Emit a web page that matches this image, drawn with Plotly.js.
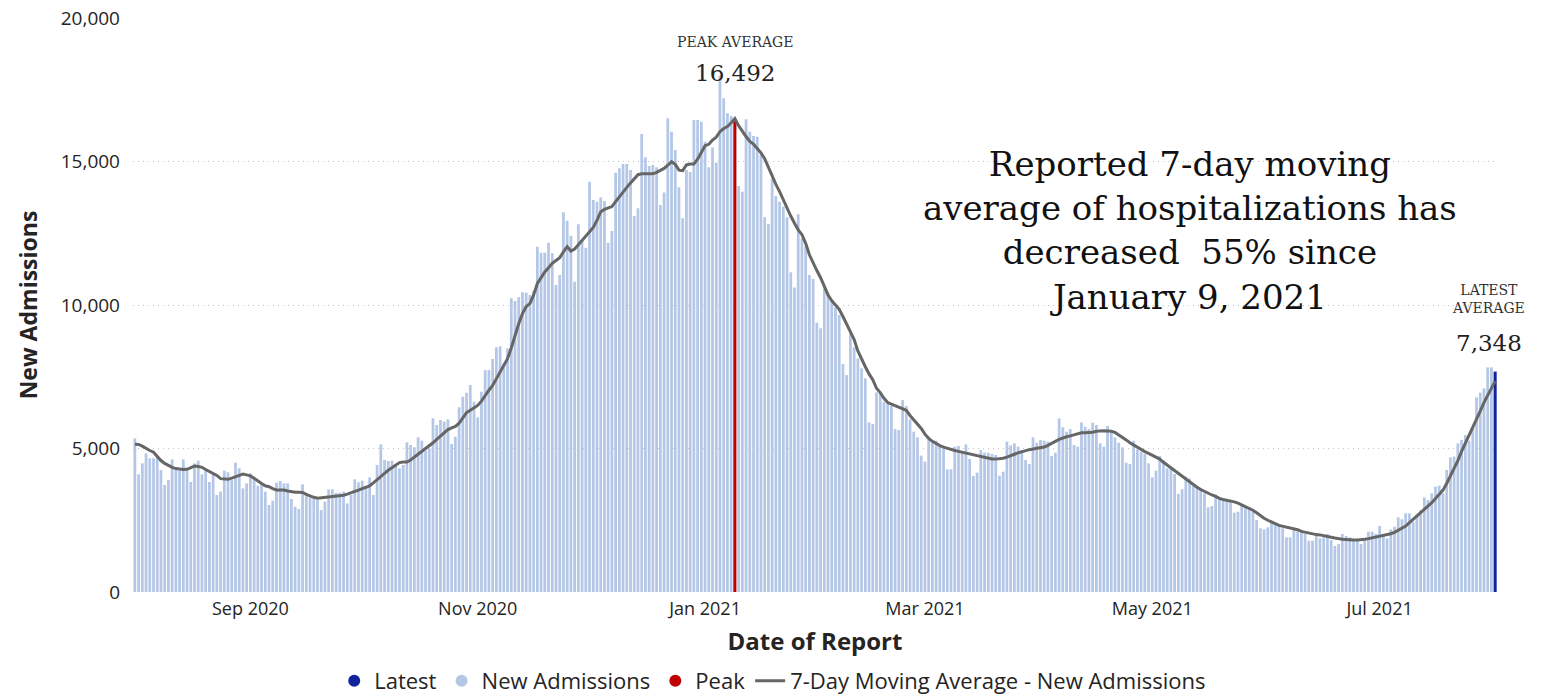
<!DOCTYPE html>
<html>
<head>
<meta charset="utf-8">
<script src="https://cdn.plot.ly/plotly-3.0.1.min.js"></script>
<style>
  html, body { margin: 0; padding: 0; background: #ffffff; }
  #chart { width: 1542px; height: 695px; }
</style>
</head>
<body>
<div id="chart"></div>
<script>
// ---- Data ----
const startDate = '2020-08-01';

// Daily new admissions, one array per month
const admAug2020 = [5354,4100,4483,4831,4657,4657,4692,4251,3728,3902,4622,4274,4227,4622,4227,3832,4483,4576,4100,4251,3832,4135,3380,3496,4227,4170,3902,4506,4309,3612,3786];
const admSep2020 = [4135,3960,3705,3786,3496,3031,3182,3809,3867,3786,3786,3240,2973,2892,3751,3380,3298,3264,3206,2857,3147,3577,3577,3450,3461,3496,3089,3380,3925,3822];
const admOct2020 = [3880,3670,3995,3380,4425,5145,4599,4564,4576,4448,4309,4425,5214,5121,5040,5389,5272,4924,5005,6050,5818,5992,5934,6015,5156,5412,6434,6806,6945,7212,6631];
const admNov2020 = [6085,6980,7734,7734,8118,8524,8559,7966,8489,10231,10138,10266,10440,10428,10350,10500,12031,11822,11822,12170,11799,10696,11044,13228,12937,12415,10812,12810,12264,11996];
const admDec2020 = [14296,13657,13599,13750,13622,12170,12577,14610,14761,14911,14911,14702,13100,13367,15957,15144,14842,14877,14796,13483,13924,16503,16038,15399,14099,13019,14702,14633,16444,16444,16386];
const admJan2021 = [15690,14796,15492,14958,18000,17200,16677,16584,16400,14145,13948,16468,16038,15887,15864,15225,13054,12821,14389,13797,13599,13425,13054,11137,10614,13158,12321,12032,11044,10905,9383];
const admFeb2021 = [9186,10579,10428,10173,9918,9651,7944,7560,9047,8524,8141,7792,7444,5911,5853,6956,6922,6631,6550,6480,5679,5644,6689,6480,6016,5586,5389,4750];
const admMar2021 = [4541,5412,5296,5272,5121,5005,4274,4274,5063,5086,4889,5144,4634,4041,4157,4947,4854,4854,4808,4773,4052,4192,5237,5110,5179,5063,4947,4599,4460,5389,5203];
const admApr2021 = [5296,5272,5237,4738,4854,6050,5737,5586,5679,5121,5063,5911,5760,5679,5899,5818,5179,5063,5783,5551,5389,5203,5040,4506,4460,5272,4970,4889,4808,4483];
const admMay2021 = [3995,4227,4738,4599,4309,4309,4111,3414,3577,4018,3960,3693,3693,3612,3438,2950,2996,3403,3298,3205,3182,3147,2764,2799,3031,2996,2950,2799,2508,2218,2183];
const admJun2021 = [2253,2415,2369,2299,2218,1905,1905,2218,2110,2060,2020,1788,1788,1951,1870,1905,2021,1812,1603,1672,2021,1951,1905,1835,1812,1672,1870,2102,2102,2021];
const admJul2021 = [2299,1986,1870,2183,2276,2601,2532,2741,2741,2450,2683,2857,3298,3205,3438,3670,3705,3438,4250,4692,4715,5179,5296,5470,5272,5760,6782,6945,7096,7827,7827];
const admAug2021 = [7677];

// 7-day moving average, one array per month
const avgAug2020 = [5150,5140,5080,5000,4930,4870,4720,4580,4480,4400,4340,4300,4275,4270,4275,4330,4390,4370,4345,4270,4195,4150,4060,3950,3930,3925,3970,4020,4070,4110,4080];
const avgSep2020 = [4045,3960,3860,3780,3700,3670,3600,3555,3555,3555,3520,3490,3475,3475,3470,3400,3345,3300,3265,3280,3300,3320,3330,3335,3340,3370,3410,3450,3500,3550];
const avgOct2020 = [3600,3650,3700,3800,3900,4010,4130,4240,4340,4420,4510,4530,4530,4600,4700,4790,4900,4990,5080,5200,5320,5440,5570,5660,5720,5770,5880,6080,6250,6330,6420];
const avgNov2020 = [6500,6650,6850,7030,7200,7420,7650,7900,8130,8500,8950,9350,9700,9950,10050,10350,10750,10950,11150,11300,11450,11550,11650,11850,12030,11880,11950,12100,12260,12400];
const avgDec2020 = [12550,12700,12950,13250,13330,13380,13430,13600,13780,13950,14100,14250,14400,14540,14570,14570,14570,14570,14620,14680,14760,14870,14990,14900,14700,14680,14880,14910,14910,15080,15300];
const avgJan2021 = [15550,15600,15750,15850,16040,16150,16220,16350,16492,16250,16050,15870,15700,15610,15450,15300,15100,14800,14480,14200,13950,13650,13350,13100,12850,12620,12450,12150,11750,11450,11200];
const avgFeb2021 = [10950,10650,10350,10150,10000,9850,9600,9350,9100,8800,8400,8100,7850,7600,7400,7100,6950,6750,6600,6550,6490,6430,6380,6330,6150,6000,5880,5700];
const avgMar2021 = [5500,5350,5250,5160,5100,5050,5005,4970,4930,4900,4870,4840,4800,4770,4740,4710,4670,4650,4635,4630,4640,4660,4700,4760,4800,4850,4890,4930,4960,4980,5000];
const avgApr2021 = [5010,5050,5110,5170,5250,5320,5370,5410,5440,5480,5530,5550,5550,5550,5570,5600,5620,5620,5610,5600,5560,5480,5390,5300,5200,5120,5030,4950,4890,4830];
const avgMay2021 = [4770,4700,4630,4520,4420,4320,4220,4120,4030,3940,3830,3740,3650,3570,3500,3430,3380,3330,3260,3225,3200,3180,3140,3100,3040,2980,2910,2850,2760,2660,2570];
const avgJun2021 = [2500,2430,2380,2320,2290,2270,2250,2220,2170,2110,2080,2060,2030,2000,1990,1970,1940,1910,1880,1850,1840,1830,1815,1812,1815,1820,1835,1860,1890,1920];
const avgJul2021 = [1930,1960,1990,2030,2080,2150,2220,2300,2420,2530,2650,2760,2880,3000,3110,3260,3410,3550,3780,4050,4280,4580,4900,5180,5450,5700,5960,6300,6600,6850,7100];
const avgAug2021 = [7348];

// Highlighted days
const peakDate = ['2021-01-09'];
const peakValue = [16492];
const latestDate = ['2021-08-01'];
const latestValue = [7677];
const latestAverage = 7348;

// Tick labels / texts
const yTickVals = [0, 5000, 10000, 15000, 20000];
const legendNames = ['Latest', 'New Admissions', 'Peak', '7-Day Moving Average - New Admissions'];

// ---- Assemble ----
const admissions = [].concat(admAug2020, admSep2020, admOct2020, admNov2020, admDec2020, admJan2021,
  admFeb2021, admMar2021, admApr2021, admMay2021, admJun2021, admJul2021, admAug2021);
const movingAvg = [].concat(avgAug2020, avgSep2020, avgOct2020, avgNov2020, avgDec2020, avgJan2021,
  avgFeb2021, avgMar2021, avgApr2021, avgMay2021, avgJun2021, avgJul2021, avgAug2021);

const [sy, sm, sd] = startDate.split('-').map(Number);
const dates = admissions.map((_, i) => new Date(Date.UTC(sy, sm - 1, sd + i)).toISOString().slice(0, 10));

const DAY = 86400000;
const COL_LIGHT = '#b4c7e7';
const COL_PEAK = '#c00000';
const COL_LATEST = '#12239e';
const COL_LINE = '#666666';
const SERIF = '"DejaVu Serif", Georgia, serif';
const SANS = '"Open Sans", "Noto Sans", sans-serif';

const traces = [
  { type: 'bar', x: dates, y: admissions, width: 0.74 * DAY, marker: { color: COL_LIGHT },
    showlegend: false, hoverinfo: 'x+y', name: legendNames[1] },
  { type: 'bar', x: peakDate, y: peakValue, width: 0.8 * DAY, marker: { color: COL_PEAK },
    showlegend: false, name: legendNames[2] },
  { type: 'bar', x: latestDate, y: latestValue, width: 0.8 * DAY, marker: { color: COL_LATEST },
    showlegend: false, name: legendNames[0] },
  { type: 'scatter', mode: 'lines', x: dates, y: movingAvg, line: { color: COL_LINE, width: 3 },
    showlegend: false, name: legendNames[3] },
  // legend entries
  { type: 'scatter', mode: 'markers', x: [null], y: [null], name: legendNames[0],
    marker: { color: COL_LATEST, size: 12, symbol: 'circle' } },
  { type: 'scatter', mode: 'markers', x: [null], y: [null], name: legendNames[1],
    marker: { color: COL_LIGHT, size: 12, symbol: 'circle' } },
  { type: 'scatter', mode: 'markers', x: [null], y: [null], name: legendNames[2],
    marker: { color: COL_PEAK, size: 12, symbol: 'circle' } },
  { type: 'scatter', mode: 'lines', x: [null], y: [null], name: legendNames[3],
    line: { color: COL_LINE, width: 3 } }
];

const layout = {
  width: 1542, height: 695,
  margin: { l: 133, r: 45, t: 18, b: 103, autoexpand: false },
  paper_bgcolor: '#ffffff', plot_bgcolor: '#ffffff',
  barmode: 'overlay',
  font: { family: SANS, color: '#252423' },
  showlegend: true,
  legend: {
    orientation: 'h', x: 0.469, xanchor: 'center', y: -0.155, yanchor: 'middle',
    font: { family: SANS, size: 22, color: '#252423' }, itemwidth: 30, traceorder: 'normal'
  },
  xaxis: {
    type: 'date',
    range: ['2020-07-31 12:00', '2021-08-01 12:00'],
    tick0: '2020-09-01', dtick: 'M2', tickformat: '%b %Y',
    showgrid: false, zeroline: false, showline: false, ticks: '', automargin: false,
    tickfont: { family: SANS, size: 18, color: '#252423' },
    ticklabelstandoff: 4,
    title: { text: '<b>Date of Report</b>', font: { family: SANS, size: 24, color: '#252423' }, standoff: 14 }
  },
  yaxis: {
    range: [0, 20000],
    tickvals: yTickVals, tickformat: ',d',
    showgrid: true, gridcolor: '#c4c4c4', griddash: '1px,4px', gridwidth: 1,
    zeroline: false, showline: false, ticks: '', automargin: false,
    tickfont: { family: SANS, size: 19, color: '#252423' },
    ticklabelstandoff: 12,
    title: { text: '<b>New Admissions</b>', font: { family: SANS, size: 23, color: '#252423' }, standoff: 16 }
  },
  annotations: [
    { xref: 'x', yref: 'paper', x: peakDate[0], y: 0.958, text: 'PEAK AVERAGE', showarrow: false,
      xanchor: 'center', yanchor: 'middle', font: { family: SERIF, size: 14, color: '#333333' } },
    { xref: 'x', yref: 'paper', x: peakDate[0], y: 0.904, text: peakValue[0].toLocaleString('en-US'), showarrow: false,
      xanchor: 'center', yanchor: 'middle', font: { family: SERIF, size: 23, color: '#222222' } },
    { xref: 'paper', yref: 'paper', x: 0.775, y: 0.629, showarrow: false, align: 'center',
      xanchor: 'center', yanchor: 'middle',
      text: 'Reported 7-day moving<br>average of hospitalizations has<br>decreased\u00a0 55% since<br>January 9, 2021',
      font: { family: SERIF, size: 34, color: '#111111' } },
    { xref: 'paper', yref: 'paper', x: 0.994, y: 0.51, text: 'LATEST<br>AVERAGE', showarrow: false,
      xanchor: 'center', yanchor: 'middle', align: 'center', font: { family: SERIF, size: 14, color: '#333333' } },
    { xref: 'paper', yref: 'paper', x: 0.994, y: 0.434, text: latestAverage.toLocaleString('en-US'), showarrow: false,
      xanchor: 'center', yanchor: 'middle', font: { family: SERIF, size: 23, color: '#222222' } }
  ]
};

Plotly.newPlot('chart', traces, layout, { displayModeBar: false, responsive: false });
</script>
</body>
</html>
